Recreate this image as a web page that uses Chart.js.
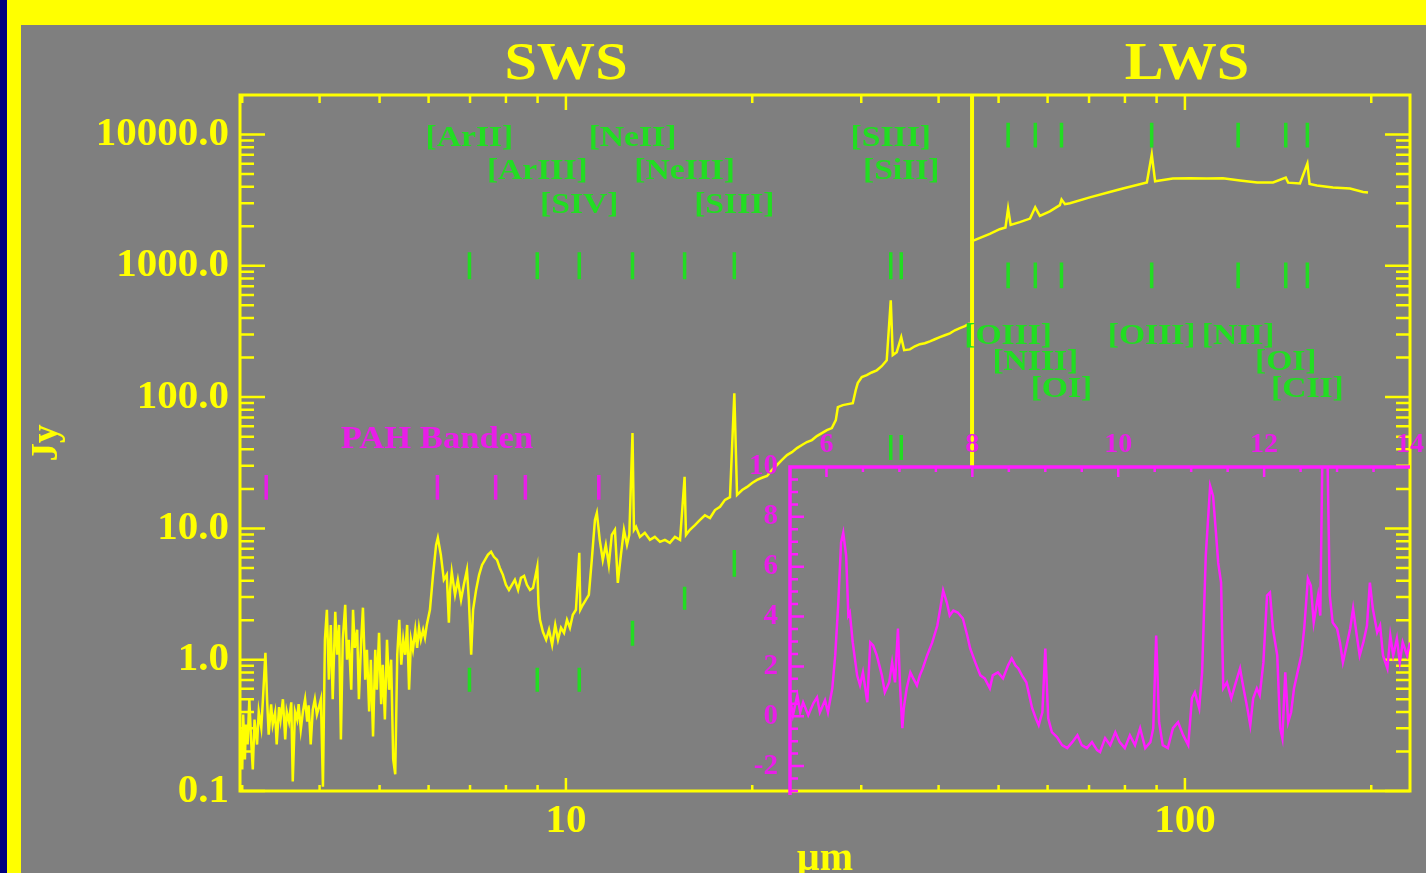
<!DOCTYPE html>
<html>
<head>
<meta charset="utf-8">
<title>ISO SWS / LWS spectrum</title>
<script src="https://cdn.jsdelivr.net/npm/chart.js@4/dist/chart.umd.min.js"></script>
<style>
  html, body { margin: 0; padding: 0; overflow: hidden; background: #7f7f7f; }
  #wrap { position: relative; width: 1426px; height: 873px; overflow: hidden; }
  #main { position: absolute; left: 0; top: 0; width: 1426px; height: 873px; }
  #inset { position: absolute; left: 720px; top: 420px; width: 716px; height: 420px; }
</style>
</head>
<body>
<div id="wrap">
  <canvas id="main" width="1426" height="873"></canvas>
  <canvas id="inset" width="716" height="420"></canvas>
</div>
<script>
// ---------------- data ----------------

// SWS spectrum: wavelength (µm) and flux density (Jy)
const swsWavelength = [
  2.99, 3.00, 3.01, 3.03, 3.04, 3.06, 3.08, 3.10, 3.12, 3.14,
  3.17, 3.19, 3.22, 3.24, 3.27, 3.29, 3.31, 3.34, 3.36, 3.39,
  3.41, 3.44, 3.46, 3.49, 3.52, 3.54, 3.57, 3.60, 3.62, 3.65,
  3.68, 3.70, 3.73, 3.76, 3.79, 3.82, 3.84, 3.87, 3.90, 3.93,
  3.96, 3.99, 4.02, 4.05, 4.08, 4.11, 4.14, 4.17, 4.20, 4.24,
  4.27, 4.30, 4.33, 4.36, 4.40, 4.43, 4.46, 4.50, 4.53, 4.56,
  4.60, 4.63, 4.67, 4.70, 4.74, 4.77, 4.81, 4.84, 4.88, 4.92,
  4.95, 4.99, 5.03, 5.06, 5.10, 5.14, 5.18, 5.22, 5.26, 5.30,
  5.34, 5.38, 5.42, 5.46, 5.50, 5.54, 5.58, 5.62, 5.66, 5.71,
  5.75, 5.79, 5.83, 5.88, 5.92, 5.96, 6.03, 6.10, 6.17, 6.21,
  6.28, 6.35, 6.42, 6.47, 6.50, 6.54, 6.62, 6.69, 6.77, 6.84,
  6.92, 6.97, 7.03, 7.08, 7.16, 7.24, 7.32, 7.40, 7.48, 7.57,
  7.65, 7.74, 7.82, 7.91, 8.00, 8.09, 8.18, 8.27, 8.37, 8.46,
  8.56, 8.65, 8.75, 8.85, 8.99, 9.03, 9.08, 9.18, 9.29, 9.39,
  9.50, 9.61, 9.71, 9.82, 9.93, 10.04, 10.15, 10.26, 10.38, 10.51,
  10.55, 10.65, 10.77, 10.89, 11.01, 11.14, 11.22, 11.34, 11.47, 11.60,
  11.73, 11.86, 12.00, 12.13, 12.27, 12.41, 12.55, 12.66, 12.81, 12.88,
  12.98, 13.17, 13.41, 13.67, 13.92, 14.19, 14.45, 14.72, 15.00, 15.29,
  15.55, 15.63, 15.86, 16.16, 16.47, 16.77, 17.09, 17.41, 17.74, 18.07,
  18.41, 18.71, 18.90, 19.26, 19.62, 19.99, 20.36, 20.74, 21.13, 21.53,
  21.93, 22.34, 22.76, 23.18, 23.62, 24.06, 24.51, 24.97, 25.43, 25.91,
  26.40, 26.89, 27.29, 27.50, 28.01, 28.54, 29.07, 29.39, 29.61, 30.06,
  30.62, 31.19, 31.78, 32.37, 32.98, 33.48, 33.73, 34.23, 34.81, 35.19,
  35.95, 36.62, 37.31, 38.00, 38.73, 39.45, 40.19, 40.94, 41.72, 42.50,
  43.30, 44.11, 44.94
];
const swsFlux = [
  0.294, 0.146, 0.382, 0.174, 0.321, 0.226, 0.50, 0.247, 0.146, 0.35,
  0.226, 0.403, 0.304, 0.50, 1.13, 0.50, 0.269, 0.458, 0.321, 0.396,
  0.226, 0.435, 0.35, 0.50, 0.247, 0.403, 0.338, 0.474, 0.118, 0.403,
  0.35, 0.458, 0.294, 0.403, 0.50, 0.338, 0.45, 0.226, 0.417, 0.50,
  0.382, 0.435, 0.50, 0.108, 1.42, 2.40, 0.705, 1.84, 0.50, 2.32,
  1.09, 1.84, 0.247, 1.42, 2.62, 1.00, 1.42, 0.59, 2.40, 1.23,
  1.69, 0.50, 1.42, 2.49, 0.705, 1.19, 0.403, 1.00, 0.26, 1.19,
  0.59, 1.60, 0.458, 0.916, 0.35, 1.42, 0.59, 1.00, 0.174, 0.134,
  1.09, 2.01, 0.916, 1.42, 1.09, 1.84, 0.59, 1.42, 1.19, 1.69,
  1.23, 1.75, 1.42, 1.69, 1.47, 1.84, 2.40, 4.43, 7.49, 8.48,
  6.29, 4.06, 4.43, 1.91, 3.40, 4.66, 3.12, 4.06, 2.86, 3.72,
  4.83, 2.86, 1.09, 2.40, 3.40, 4.43, 5.27, 5.75, 6.29, 6.63,
  6.08, 5.75, 5.00, 4.43, 3.72, 3.40, 3.72, 4.06, 3.40, 4.20,
  4.35, 3.72, 3.40, 3.53, 5.09, 2.62, 2.01, 1.63, 1.42, 1.69,
  1.30, 1.84, 1.42, 1.75, 1.60, 2.01, 1.75, 2.20, 2.40, 6.52,
  2.40, 2.62, 2.86, 3.12, 5.75, 11.6, 13.1, 8.18, 5.75, 7.49,
  5.27, 8.93, 9.75, 3.85, 6.29, 9.75, 7.49, 8.93, 53.2, 9.75,
  10.3, 8.62, 9.25, 8.18, 8.62, 7.90, 8.18, 7.76, 8.62, 8.18,
  24.7, 8.93, 9.75, 10.6, 11.6, 12.6, 12.0, 13.8, 14.6, 16.5,
  17.3, 107, 18.0, 19.6, 20.7, 22.2, 23.4, 24.3, 25.1, 27.9,
  30.4, 33.2, 36.2, 38.1, 40.9, 43.2, 45.5, 47.1, 50.5, 53.2,
  56.1, 58.1, 66.8, 83.9, 86.9, 88.4, 89.9, 113, 128, 142,
  147, 154, 160, 172, 191, 547, 209, 220, 286, 228,
  231, 244, 253, 257, 266, 276, 286, 296, 306, 323,
  335, 347, 365
];

// LWS spectrum: wavelength (µm) and flux density (Jy)
const lwsWavelength = [
  45.3, 48.4, 50.2, 51.3, 51.8, 52.3, 54.1, 56.2, 57.3, 58.3,
  60.5, 62.8, 63.2, 64.0, 65.2, 70.2, 75.6, 79.4, 86.8, 88.4,
  89.5, 91.1, 95.6, 101.9, 108.5, 115.2, 122.7, 130.8, 138.8, 145.5,
  146.8, 153.4, 157.7, 159.0, 163.4, 173.4, 184.8, 194.0, 197.6
];
const lwsFlux = [
  1540, 1750, 1900, 1960, 2730, 2050, 2150, 2290, 2790, 2400,
  2600, 2900, 3200, 2950, 3000, 3320, 3650, 3880, 4320, 7050,
  4400, 4470, 4620, 4650, 4620, 4650, 4470, 4320, 4320, 4700,
  4300, 4240, 6000, 4200, 4090, 3950, 3880, 3650, 3620
];

// Inset: 5.5–14 µm detail (linear units)
const insetWavelength = [
  5.50, 5.54, 5.60, 5.64, 5.68, 5.75, 5.82, 5.87, 5.91, 5.98,
  6.02, 6.08, 6.12, 6.16, 6.20, 6.23, 6.27, 6.30, 6.32, 6.36,
  6.42, 6.46, 6.50, 6.56, 6.60, 6.64, 6.69, 6.76, 6.80, 6.86,
  6.90, 6.94, 6.98, 7.01, 7.04, 7.06, 7.10, 7.15, 7.19, 7.24,
  7.28, 7.32, 7.38, 7.45, 7.52, 7.56, 7.60, 7.65, 7.69, 7.74,
  7.80, 7.87, 7.93, 7.97, 8.04, 8.11, 8.17, 8.24, 8.28, 8.35,
  8.42, 8.49, 8.54, 8.59, 8.63, 8.68, 8.74, 8.78, 8.82, 8.87,
  8.91, 8.96, 9.00, 9.04, 9.09, 9.16, 9.23, 9.30, 9.37, 9.44,
  9.50, 9.57, 9.64, 9.71, 9.75, 9.82, 9.89, 9.96, 10.02, 10.09,
  10.16, 10.23, 10.30, 10.37, 10.44, 10.48, 10.52, 10.56, 10.61, 10.68,
  10.75, 10.82, 10.89, 10.96, 11.01, 11.05, 11.11, 11.15, 11.20, 11.26,
  11.30, 11.34, 11.37, 11.41, 11.44, 11.49, 11.55, 11.60, 11.67, 11.71,
  11.77, 11.81, 11.85, 11.90, 11.94, 11.99, 12.04, 12.08, 12.12, 12.18,
  12.22, 12.25, 12.29, 12.33, 12.37, 12.41, 12.47, 12.51, 12.55, 12.60,
  12.64, 12.68, 12.74, 12.77, 12.81, 12.86, 12.90, 12.94, 13.00, 13.04,
  13.08, 13.14, 13.18, 13.22, 13.27, 13.31, 13.36, 13.41, 13.45, 13.49,
  13.55, 13.59, 13.63, 13.69, 13.73, 13.77, 13.82, 13.86, 13.90, 13.96,
  14.00, 14.05
];
const insetFlux = [
  0.72, 0.04, 0.84, 0.16, 0.56, 0.04, 0.52, 0.76, 0.16, 0.64,
  0.16, 1.12, 2.44, 4.44, 6.96, 7.36, 6.44, 4.04, 4.16, 2.96,
  1.64, 1.24, 1.76, 0.56, 2.96, 2.84, 2.44, 1.64, 0.96, 1.36,
  2.16, 1.36, 3.52, 1.12, -0.48, 0.32, 1.12, 1.76, 1.52, 1.24,
  1.64, 1.92, 2.44, 2.96, 3.64, 4.32, 5.04, 4.56, 4.04, 4.24,
  4.16, 3.92, 3.24, 2.72, 2.16, 1.64, 1.52, 1.12, 1.64, 1.76,
  1.52, 2.04, 2.32, 2.04, 1.92, 1.64, 1.36, 0.84, 0.32, -0.08,
  -0.36, 0.16, 2.72, -0.08, -0.64, -0.84, -1.16, -1.28, -1.04, -0.76,
  -1.16, -1.28, -1.04, -1.36, -1.44, -0.88, -1.16, -0.64, -1.04, -1.28,
  -0.76, -1.16, -0.48, -1.28, -1.04, -0.48, 3.24, -0.24, -1.16, -1.28,
  -0.48, -0.24, -0.76, -1.16, 0.72, 0.96, 0.32, 1.76, 6.44, 9.24,
  8.84, 7.36, 6.16, 5.36, 1.12, 1.36, 0.72, 1.24, 1.92, 1.24,
  0.32, -0.36, 0.72, 1.12, 0.84, 2.16, 4.84, 4.96, 3.52, 2.44,
  -0.48, -0.88, 1.76, -0.24, 0.16, 1.12, 1.92, 2.44, 3.52, 5.52,
  5.24, 3.76, 4.84, 4.04, 13.0, 12.0, 4.84, 3.76, 3.52, 2.96,
  2.16, 2.96, 3.52, 4.32, 3.24, 2.44, 2.96, 3.64, 5.36, 4.32,
  3.36, 3.64, 2.44, 1.92, 3.24, 2.44, 3.12, 2.16, 2.96, 2.44,
  2.96, 2.60
];

// Fine-structure lines: name and rest wavelength (µm)
const lineNames = ['[ArII]', '[ArIII]', '[SIV]', '[NeII]', '[NeIII]', '[SIII]', '[SIII]', '[SiII]',
                   '[OIII]', '[NIII]', '[OI]', '[OIII]', '[NII]', '[OI]', '[CII]'];
const lineWavelengths = [6.985, 8.99, 10.51, 12.81, 15.55, 18.71, 33.48, 34.81,
                         51.81, 57.32, 63.18, 88.36, 121.9, 145.5, 157.7];
// marker bars (Jy): upper row and the row near the spectrum
const upperMarkTop    = [1270, 1270, 1270, 1270, 1270, 1270, 1270, 1270, 12300, 12300, 12300, 12300, 12300, 12300, 12300];
const upperMarkBottom = [790, 790, 790, 790, 790, 790, 790, 790, 7960, 7960, 7960, 7960, 7960, 7960, 7960];
const lowerMarkTop    = [0.87, 0.87, 0.87, 1.98, 3.59, 6.86, 51.4, 51.4, 1060, 1060, 1060, 1060, 1060, 1060, 1060];
const lowerMarkBottom = [0.57, 0.57, 0.57, 1.28, 2.40, 4.28, 33.2, 33.2, 674, 674, 674, 674, 674, 674, 674];

// PAH bands (µm) and their marker bars (Jy)
const pahWavelengths = [3.28, 6.2, 7.7, 8.6, 11.3];
const pahMarkTop = [25.5, 25.5, 25.5, 25.5, 25.5];
const pahMarkBottom = [16.5, 16.5, 16.5, 16.5, 16.5];

// SWS / LWS boundary (µm)
const sepWavelength = 45.3;

// axes
const xRange = [2.975, 231];
const yRange = [0.1, 20000];
const xTickValues = [10, 100];
const yTickValues = [0.1, 1, 10, 100, 1000, 10000];
const insetXRange = [5.5, 14];
const insetYRange = [-3, 10];
const insetXTicks = [6, 8, 10, 12, 14];
const insetYTicks = [-2, 0, 2, 4, 6, 8, 10];

// ---------------- style ----------------
const SERIF = "'Liberation Serif', 'DejaVu Serif', 'Times New Roman', serif";
const YELLOW = '#ffff00';
const GRAY = '#7f7f7f';
const NAVY = '#00007f';
const GREEN = '#22dd22';
const MAGENTA = '#ff1cff';
const MAGENTA_TEXT = '#e81ee8';
const INSET_TOP_PX = 467;          // page y of the inset's upper frame
const SWS_ROWS = [138, 171, 205];  // label rows for the SWS lines
const LWS_ROWS = [336, 362, 389];  // label rows for the LWS lines
const LINE_ROW = [0, 1, 2, 0, 1, 2, 0, 1, 0, 1, 2, 0, 0, 1, 2];

const toPoints = (xs, ys) => xs.map((x, i) => ({ x, y: ys[i] }));
function segments(xs, tops, bottoms) {
  const pts = [];
  xs.forEach((x, i) => { pts.push({ x, y: tops[i] }, { x, y: bottoms[i] }, { x, y: null }); });
  return pts;
}
function stretchText(ctx, text, x, y, size, color, sx) {
  ctx.save();
  ctx.font = 'bold ' + size + 'px ' + SERIF;
  ctx.fillStyle = color;
  ctx.textAlign = 'center';
  ctx.textBaseline = 'middle';
  ctx.translate(x, y);
  ctx.scale(sx, 1);
  ctx.fillText(text, 0, 0);
  ctx.restore();
}

// background, frame, inward tick marks and annotations of the main plot
const mainDecor = {
  id: 'mainDecor',
  beforeDraw(chart) {
    const { ctx, width, height } = chart;
    ctx.save();
    ctx.fillStyle = GRAY;
    ctx.fillRect(0, 0, width, height);
    ctx.fillStyle = YELLOW;
    ctx.fillRect(0, 0, width, 25);
    ctx.fillRect(0, 0, 21, height);
    ctx.fillStyle = NAVY;
    ctx.fillRect(0, 0, 7, height);
    ctx.restore();
  },
  afterDatasetsDraw(chart) {
    const { ctx, chartArea: a, scales: { x, y } } = chart;
    ctx.save();

    // instrument boundary
    const sx = x.getPixelForValue(sepWavelength);
    ctx.strokeStyle = YELLOW;
    ctx.lineWidth = 4;
    ctx.beginPath();
    ctx.moveTo(sx, a.top);
    ctx.lineTo(sx, INSET_TOP_PX);
    ctx.stroke();

    // frame
    ctx.lineWidth = 3;
    ctx.strokeRect(a.left, a.top, a.right - a.left, a.bottom - a.top);

    // tick marks
    ctx.lineWidth = 2.5;
    ctx.beginPath();
    for (const d of [0.1, 1, 10, 100, 1000, 10000]) {
      for (let m = 1; m < 10; m++) {
        const v = d * m;
        if (v < yRange[0] || v >= yRange[1]) continue;
        const py = y.getPixelForValue(v);
        const len = m === 1 ? 25 : 14;
        ctx.moveTo(a.left, py); ctx.lineTo(a.left + len, py);
        ctx.moveTo(a.right, py); ctx.lineTo(a.right - len, py);
      }
    }
    for (const d of [1, 10, 100]) {
      for (let m = 1; m < 10; m++) {
        const v = d * m;
        if (v <= xRange[0] || v >= xRange[1]) continue;
        const px = x.getPixelForValue(v);
        const major = m === 1;
        ctx.moveTo(px, a.bottom); ctx.lineTo(px, a.bottom - (major ? 13 : 6));
        ctx.moveTo(px, a.top); ctx.lineTo(px, a.top + (major ? 15 : 8));
      }
    }
    ctx.stroke();

    // instrument titles
    stretchText(ctx, 'SWS', 566, 65, 53, YELLOW, 1.1);
    stretchText(ctx, 'LWS', 1187, 65, 53, YELLOW, 1.1);

    // line identifications
    lineNames.forEach((name, i) => {
      const rows = i < 8 ? SWS_ROWS : LWS_ROWS;
      stretchText(ctx, name, x.getPixelForValue(lineWavelengths[i]), rows[LINE_ROW[i]], 30, GREEN, 1.12);
    });

    // PAH label
    stretchText(ctx, 'PAH Banden', 437, 440, 32, MAGENTA_TEXT, 1.08);
    ctx.restore();
  }
};

const axisFont = { family: SERIF, size: 41, weight: 'bold' };

new Chart(document.getElementById('main'), {
  type: 'line',
  data: {
    datasets: [
      { data: segments(lineWavelengths, upperMarkTop, upperMarkBottom), borderColor: GREEN, borderWidth: 3.5 },
      { data: segments(lineWavelengths, lowerMarkTop, lowerMarkBottom), borderColor: GREEN, borderWidth: 3.5 },
      { data: segments(pahWavelengths, pahMarkTop, pahMarkBottom), borderColor: MAGENTA_TEXT, borderWidth: 3.5 },
      { data: toPoints(swsWavelength, swsFlux), borderColor: YELLOW, borderWidth: 2.5 },
      { data: toPoints(lwsWavelength, lwsFlux), borderColor: YELLOW, borderWidth: 2.5 }
    ]
  },
  options: {
    responsive: false,
    animation: false,
    events: [],
    elements: { point: { radius: 0 }, line: { tension: 0, fill: false } },
    layout: { padding: { left: 21, top: 95, right: 16, bottom: 0 } },
    plugins: { legend: { display: false }, tooltip: { enabled: false } },
    scales: {
      x: {
        type: 'logarithmic', position: 'bottom', min: xRange[0], max: xRange[1],
        afterFit: s => { s.height = 82; },
        afterBuildTicks: s => { s.ticks = xTickValues.map(v => ({ value: v })); },
        grid: { display: false, drawTicks: false },
        border: { display: false },
        ticks: { color: YELLOW, font: axisFont, padding: 6, maxRotation: 0, autoSkip: false,
                 callback: v => String(v) },
        title: { display: true, text: 'µm', color: YELLOW,
                 font: { family: SERIF, size: 40, weight: 'bold', lineHeight: 0.65 }, padding: 0 }
      },
      y: {
        type: 'logarithmic', position: 'left', min: yRange[0], max: yRange[1],
        afterFit: s => { s.width = 219; },
        afterBuildTicks: s => { s.ticks = yTickValues.map(v => ({ value: v })); },
        grid: { display: false, drawTicks: false },
        border: { display: false },
        ticks: { color: YELLOW, font: axisFont, padding: 11, autoSkip: false,
                 callback: v => Number(v).toFixed(1) },
        title: { display: true, text: 'Jy', color: YELLOW,
                 font: { family: SERIF, size: 37, weight: 'bold', lineHeight: 1 },
                 padding: { top: 8, bottom: 0 } }
      }
    }
  },
  plugins: [mainDecor]
});

// frame and ticks of the inset
const insetDecor = {
  id: 'insetDecor',
  afterDatasetsDraw(chart) {
    const { ctx, chartArea: a, scales: { x, y } } = chart;
    ctx.save();
    ctx.strokeStyle = MAGENTA;
    ctx.lineWidth = 3.5;
    ctx.beginPath();
    ctx.moveTo(a.right, a.top);
    ctx.lineTo(a.left, a.top);
    ctx.lineTo(a.left, a.bottom + 4);
    ctx.stroke();

    ctx.lineWidth = 2.5;
    ctx.beginPath();
    for (let v = insetYRange[0]; v < insetYRange[1]; v += 0.5) {
      const py = y.getPixelForValue(v);
      const len = v % 2 === 0 ? 14 : 8;
      ctx.moveTo(a.left, py); ctx.lineTo(a.left + len, py);
    }
    for (let v = 6; v < insetXRange[1]; v += 0.5) {
      const px = x.getPixelForValue(v);
      const len = v % 2 === 0 ? 10 : 5;
      ctx.moveTo(px, a.top); ctx.lineTo(px, a.top + len);
    }
    ctx.stroke();
    ctx.restore();
  }
};

new Chart(document.getElementById('inset'), {
  type: 'line',
  data: {
    datasets: [
      { data: toPoints(insetWavelength, insetFlux), borderColor: MAGENTA, borderWidth: 2.5 }
    ]
  },
  options: {
    responsive: false,
    animation: false,
    events: [],
    elements: { point: { radius: 0 }, line: { tension: 0, fill: false } },
    layout: { padding: { left: 0, top: 0, right: 26, bottom: 49 } },
    plugins: { legend: { display: false }, tooltip: { enabled: false } },
    scales: {
      x: {
        type: 'linear', position: 'top', min: insetXRange[0], max: insetXRange[1],
        afterFit: s => { s.height = 47; },
        afterBuildTicks: s => { s.ticks = insetXTicks.map(v => ({ value: v })); },
        grid: { display: false, drawTicks: false },
        border: { display: false },
        ticks: { color: MAGENTA_TEXT, font: { family: SERIF, size: 28, weight: 'bold' },
                 padding: 5, maxRotation: 0, autoSkip: false, callback: v => String(v) }
      },
      y: {
        type: 'linear', position: 'left', min: insetYRange[0], max: insetYRange[1],
        afterFit: s => { s.width = 70; },
        afterBuildTicks: s => { s.ticks = insetYTicks.map(v => ({ value: v })); },
        grid: { display: false, drawTicks: false },
        border: { display: false },
        ticks: { color: MAGENTA_TEXT, font: { family: SERIF, size: 29, weight: 'bold' },
                 padding: 12, autoSkip: false, callback: v => String(v) }
      }
    }
  },
  plugins: [insetDecor]
});
</script>
</body>
</html>
